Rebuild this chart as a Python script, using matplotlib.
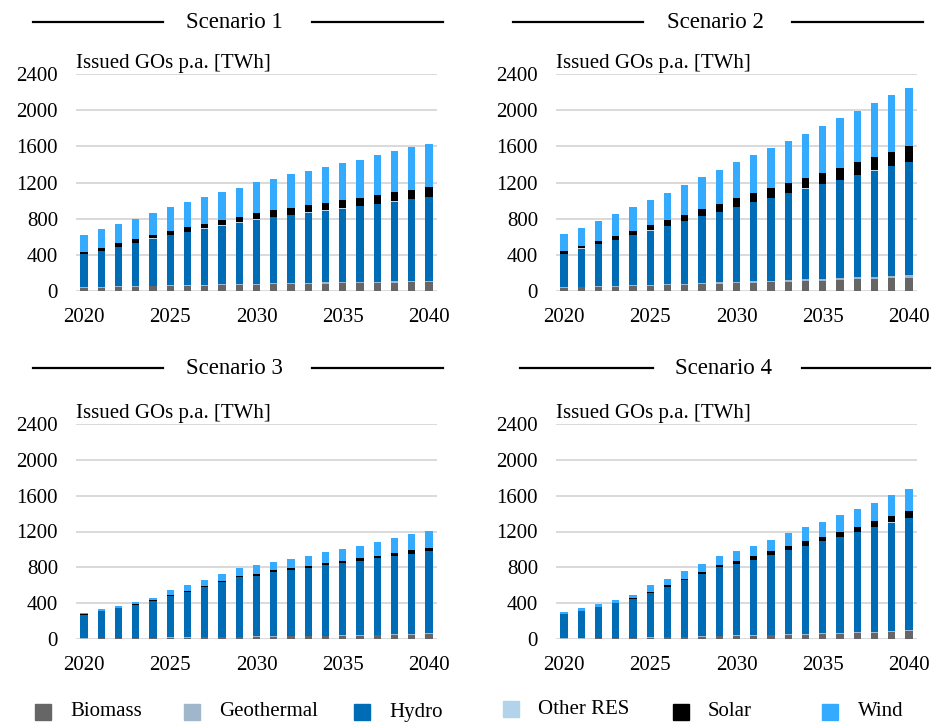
import numpy as np
import matplotlib
matplotlib.use("Agg")
import matplotlib.pyplot as plt
from matplotlib.lines import Line2D
from matplotlib.patches import Rectangle

plt.rcParams["font.family"] = ["Liberation Serif", "DejaVu Serif"]

years = list(range(2020, 2041))
series_names = ["Biomass", "Geothermal", "Hydro", "Other RES", "Solar", "Wind"]
colors = ["#666666", "#9fb6cb", "#006cb5", "#b1d4ea", "#000000", "#35abff"]

# Scenario 1 [TWh]
s1_biomass = [35, 38, 42, 45, 50, 52, 55, 58, 62, 66, 70, 72, 75, 78, 82, 85, 88, 90, 93, 96, 100]
s1_geo = [8, 8, 9, 9, 10, 10, 10, 11, 11, 12, 12, 12, 13, 13, 13, 14, 14, 14, 15, 15, 16]
s1_hydro = [361, 398, 438, 479, 518, 557, 587, 620, 649, 678, 707, 735, 753, 776, 794, 812, 835, 859, 881, 904, 925]
s1_other = [3, 3, 3, 3, 3, 3, 3, 3, 3, 3, 3, 3, 3, 3, 3, 3, 3, 3, 3, 3, 3]
s1_solar = [26, 30, 34, 37, 40, 45, 50, 54, 59, 64, 70, 74, 78, 82, 86, 90, 93, 97, 100, 104, 108]
s1_wind = [182, 204, 215, 227, 246, 263, 280, 295, 312, 321, 342, 348, 367, 378, 392, 407, 419, 437, 452, 467, 474]

# Scenario 2 [TWh]
s2_biomass = [35, 40, 44, 48, 52, 56, 62, 68, 74, 80, 86, 92, 98, 104, 110, 116, 122, 128, 134, 140, 146]
s2_geo = [8, 8, 9, 10, 10, 11, 12, 13, 14, 15, 16, 17, 18, 19, 20, 21, 22, 23, 24, 25, 26]
s2_hydro = [364, 419, 462, 505, 553, 600, 645, 693, 742, 779, 828, 876, 914, 958, 1000, 1041, 1082, 1127, 1172, 1213, 1254]
s2_other = [4, 4, 4, 4, 4, 4, 4, 4, 4, 4, 4, 4, 4, 4, 4, 4, 4, 4, 4, 4, 4]
s2_solar = [30, 32, 35, 40, 48, 55, 60, 65, 73, 82, 90, 97, 104, 111, 118, 125, 133, 140, 150, 159, 170]
s2_wind = [185, 197, 224, 241, 259, 281, 306, 331, 352, 377, 398, 418, 447, 463, 489, 523, 548, 574, 594, 629, 644]

# Scenario 3 [TWh]
s3_biomass = [5, 6, 7, 8, 10, 14, 16, 18, 20, 22, 24, 26, 28, 30, 33, 36, 39, 42, 46, 50, 55]
s3_geo = [2, 2, 2, 3, 3, 3, 4, 4, 4, 5, 5, 5, 6, 6, 6, 7, 7, 8, 8, 9, 10]
s3_hydro = [264, 300, 336, 372, 411, 459, 504, 557, 611, 660, 677, 716, 735, 759, 786, 804, 827, 849, 871, 892, 912]
s3_other = [2, 2, 2, 2, 2, 2, 2, 2, 2, 2, 2, 2, 2, 2, 2, 2, 2, 2, 2, 2, 2]
s3_solar = [2, 2, 3, 3, 4, 10, 12, 14, 16, 18, 20, 21, 22, 23, 25, 27, 29, 31, 35, 38, 42]
s3_wind = [18, 22, 22, 28, 31, 62, 64, 66, 71, 88, 93, 92, 102, 109, 118, 131, 136, 149, 164, 176, 186]

# Scenario 4 [TWh]
s4_biomass = [4, 5, 6, 7, 9, 14, 18, 22, 26, 30, 34, 38, 42, 46, 50, 55, 60, 65, 71, 78, 86]
s4_geo = [2, 2, 2, 3, 3, 4, 4, 5, 5, 6, 6, 7, 7, 8, 8, 9, 10, 11, 12, 13, 14]
s4_hydro = [273, 305, 349, 391, 438, 495, 561, 627, 690, 763, 792, 839, 887, 938, 982, 1025, 1071, 1117, 1162, 1209, 1249]
s4_other = [2, 2, 2, 2, 2, 2, 2, 2, 2, 2, 2, 2, 2, 2, 2, 2, 2, 2, 2, 2, 2]
s4_solar = [2, 2, 3, 4, 5, 12, 15, 18, 24, 28, 33, 38, 42, 46, 50, 53, 56, 60, 65, 72, 80]
s4_wind = [14, 26, 24, 31, 33, 75, 72, 80, 89, 100, 110, 112, 127, 138, 153, 164, 183, 194, 211, 231, 248]

scenarios = [
    ("Scenario 1", [s1_biomass, s1_geo, s1_hydro, s1_other, s1_solar, s1_wind]),
    ("Scenario 2", [s2_biomass, s2_geo, s2_hydro, s2_other, s2_solar, s2_wind]),
    ("Scenario 3", [s3_biomass, s3_geo, s3_hydro, s3_other, s3_solar, s3_wind]),
    ("Scenario 4", [s4_biomass, s4_geo, s4_hydro, s4_other, s4_solar, s4_wind]),
]

W, H = 937, 722
fig = plt.figure(figsize=(W / 100, H / 100), dpi=100)

# panel boxes in pixels: left, top, right, bottom
boxes = [(76, 74, 437, 291), (556, 74, 917, 291),
         (76, 424, 437, 639), (556, 424, 917, 639)]
# title centre and side lines (pixels)
titles = [(234, 22, (33, 163), (312, 443)),
          (715, 22, (513, 643), (792, 923)),
          (234, 368, (33, 163), (312, 443)),
          (724, 368, (520, 653), (802, 930))]

for (name, data), (l, t, r, b), (tx, ty, ll, rl) in zip(scenarios, boxes, titles):
    ax = fig.add_axes([l / W, 1 - b / H, (r - l) / W, (b - t) / H])
    bottom = np.zeros(len(years))
    for vals, c in zip(data, colors):
        ax.bar(years, vals, bottom=bottom, width=0.42, color=c, zorder=3)
        bottom += np.array(vals)
    ax.set_ylim(0, 2400)
    ax.set_xlim(2019.54, 2040.46)
    ax.set_yticks(range(0, 2401, 400))
    ax.set_xticks([2020, 2025, 2030, 2035, 2040])
    ax.tick_params(length=0, labelsize=15)
    ax.tick_params(axis="y", pad=13)
    ax.tick_params(axis="x", pad=12)
    ax.grid(axis="y", color="#d9d9d9", lw=1.4, zorder=0)
    for s in ax.spines.values():
        s.set_visible(False)
    ax.text(0, 1 + 6 / (b - t), "Issued GOs p.a. [TWh]", transform=ax.transAxes,
            fontsize=15, ha="left", va="baseline")

    fig.text(tx / W, 1 - ty / H, name, fontsize=16.5, ha="center", va="center")
    for x0, x1 in (ll, rl):
        fig.add_artist(Line2D([x0 / W, x1 / W], [1 - ty / H, 1 - ty / H],
                              color="black", lw=1.6))

# legend along the bottom
leg_marker_x = [35, 184, 354, 503, 673, 822]
leg_text_x = [70, 219, 389, 538, 708, 858]
leg_y = [712, 712, 712, 709, 712, 712]
for name, c, mx, txx, my in zip(series_names, colors, leg_marker_x, leg_text_x, leg_y):
    fig.add_artist(Rectangle((mx / W, 1 - (my + 8) / H), 16 / W, 16 / H,
                             color=c, transform=fig.transFigure))
    fig.text(txx / W, 1 - my / H, name, fontsize=15, ha="left", va="center")

fig.savefig("out.png", dpi=100)
